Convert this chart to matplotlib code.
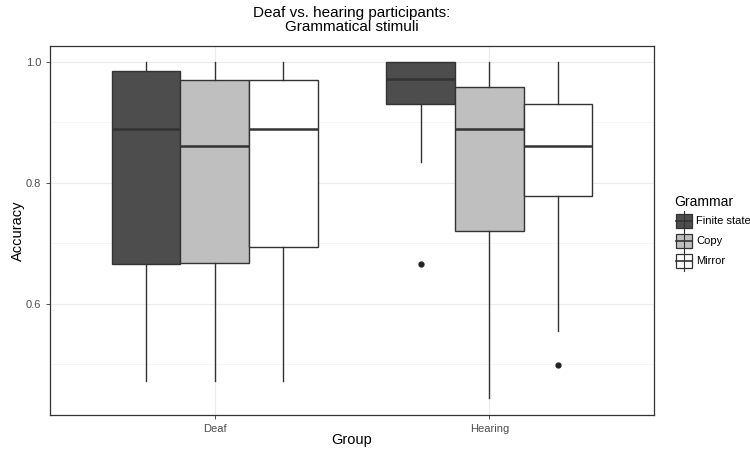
import numpy as np
import matplotlib
matplotlib.use("Agg")
import matplotlib.pyplot as plt
from matplotlib.patches import Rectangle
from matplotlib.lines import Line2D

plt.rcParams['font.family'] = ['Liberation Sans', 'DejaVu Sans']

# values
groups = ["Deaf", "Hearing"]
grammars = ["Finite state", "Copy", "Mirror"]
fills = ["#4D4D4D", "#BFBFBF", "#FFFFFF"]

# per group, per grammar: lower whisker, Q1, median, Q3, upper whisker
whislo = [[0.473, 0.473, 0.473], [0.834, 0.445, 0.555]]
q1 = [[0.666, 0.667, 0.694], [0.930, 0.721, 0.778]]
med = [[0.889, 0.861, 0.889], [0.972, 0.889, 0.861]]
q3 = [[0.985, 0.971, 0.971], [1.0, 0.958, 0.930]]
whishi = [[1.0, 1.0, 1.0], [1.0, 1.0, 1.0]]
outliers = [[[], [], []], [[0.666], [], [0.499]]]

W, H = 750, 451
fig = plt.figure(figsize=(W/100, H/100), dpi=100)
ax = fig.add_axes([50/W, 36/H, 604/W, 369/H])

edge = "#333333"
dodge = 0.75
bw = dodge / len(grammars)
for gi, g in enumerate(groups):
    for k in range(len(grammars)):
        pos = gi + 1 - dodge/2 + bw*(k + 0.5)
        st = dict(whislo=whislo[gi][k], q1=q1[gi][k], med=med[gi][k],
                  q3=q3[gi][k], whishi=whishi[gi][k], fliers=outliers[gi][k])
        ax.bxp([st], positions=[pos], widths=bw, showcaps=False, patch_artist=True,
               boxprops=dict(facecolor=fills[k], edgecolor=edge, linewidth=1.0),
               whiskerprops=dict(color=edge, linewidth=1.0),
               medianprops=dict(color=edge, linewidth=1.8),
               flierprops=dict(marker='o', markerfacecolor='#222222',
                               markeredgecolor='#222222', markersize=3.5),
               zorder=3)

ax.set_xlim(0.4, 2.6)
ax.set_ylim(0.4165, 1.0264)
ax.set_xticks([1, 2])
ax.set_xticklabels(groups)
ax.set_yticks([0.6, 0.8, 1.0])
ax.set_yticklabels(["0.6", "0.8", "1.0"])
ax.set_yticks([0.5, 0.7, 0.9], minor=True)
ax.grid(True, which='major', color='#EBEBEB', linewidth=0.8, zorder=0)
ax.grid(True, which='minor', axis='y', color='#F2F2F2', linewidth=0.5, zorder=0)
ax.set_axisbelow(True)
ax.tick_params(axis='both', which='major', colors='#333333', labelcolor='#4D4D4D',
               labelsize=8, length=3, width=0.6)
ax.tick_params(axis='y', which='minor', length=0)
for s in ax.spines.values():
    s.set_color('#333333')
    s.set_linewidth(0.9)

ax.set_xlabel("Group", fontsize=10.5)
ax.set_ylabel("Accuracy", fontsize=10.5)
ax.xaxis.set_label_coords(0.5, -25/369, transform=ax.transAxes)
ax.yaxis.set_label_coords(-32/604, 0.5, transform=ax.transAxes)
ax.xaxis.label.set_va('center')
ax.yaxis.label.set_va('center')
fig.text(352/W, 1 - 20/H, "Deaf vs. hearing participants:\nGrammatical stimuli",
         ha='center', va='center', fontsize=11, linespacing=1.0)

# legend drawn by hand, ggplot-style box keys
fx = lambda px: px / W
fy = lambda py: 1 - py / H
fig.text(fx(674), fy(202), "Grammar", fontsize=10, va='center', ha='left')
for i, (name, c) in enumerate(zip(grammars, fills)):
    cy = 221 + 20*i
    fig.add_artist(Line2D([fx(684), fx(684)], [fy(cy - 10), fy(cy + 10)],
                          color=edge, linewidth=0.8))
    fig.add_artist(Rectangle((fx(676), fy(cy + 7)), 16/W, 14/H, facecolor=c,
                             edgecolor=edge, linewidth=0.9))
    fig.add_artist(Line2D([fx(676), fx(692)], [fy(cy), fy(cy)], color=edge,
                          linewidth=1.2))
    fig.text(fx(696), fy(cy), name, fontsize=8, va='center', ha='left')

fig.savefig("out.png", dpi=100)
